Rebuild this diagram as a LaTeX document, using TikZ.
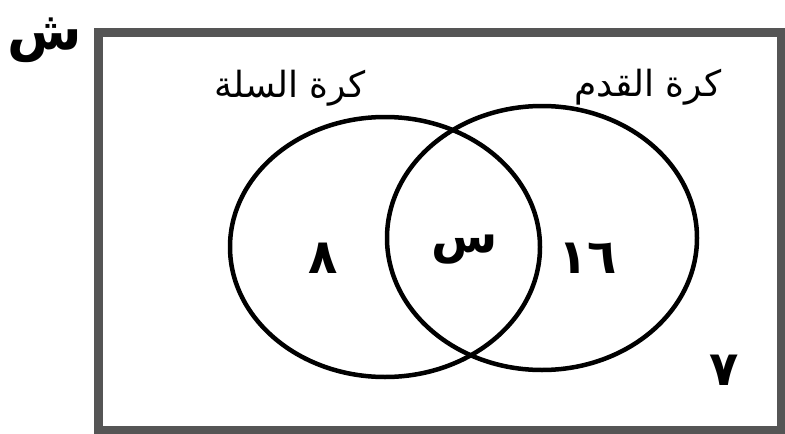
\documentclass[tikz,border=0pt]{standalone}
\usepackage{fontspec}
\TeXXeTstate=1
\newfontfamily\arabicfont[Script=Arabic]{DejaVu Sans}
\usetikzlibrary{shapes.geometric, positioning}
\definecolor{frame}{RGB}{85,85,85}

\begin{document}
\begin{tikzpicture}[
      x=1pt, y=-1pt,
      set/.style={ellipse, draw=black, line width=4.5pt, inner sep=0pt,
                  minimum width=310pt},
      lbl/.style={font=\arabicfont\fontsize{36}{40}\selectfont, inner sep=0pt},
      num/.style={font=\arabicfont\bfseries\fontsize{48}{52}\selectfont, inner sep=0pt}
    ]
    \useasboundingbox (0,0) rectangle (785,434);
    \node[draw=frame, line width=9pt, minimum width=683pt, minimum height=398pt,
          inner sep=0pt] (u) at (439.5,231) {};
    \node[set, minimum height=260pt] (b) at (385,247) {};
    \node[set, minimum height=264pt] (f) at (542,238) {};
    \node[lbl] (bl) at (290,88) {\beginR كرة السلة\endR};
    \node[lbl] (fl) at (648,87) {\beginR كرة القدم\endR};
    \node[font=\arabicfont\bfseries\fontsize{54}{58}\selectfont, inner sep=0pt] (s) at (45,40) {ش};
    \node[num] (n8) at (323,258) {٨};
    \node[num] (nx) at (465,250) {س};
    \node[num] (n16) at (588,258) {١٦};
    \node[num] (n7) at (724,370) {٧};
  \end{tikzpicture}
\end{document}
